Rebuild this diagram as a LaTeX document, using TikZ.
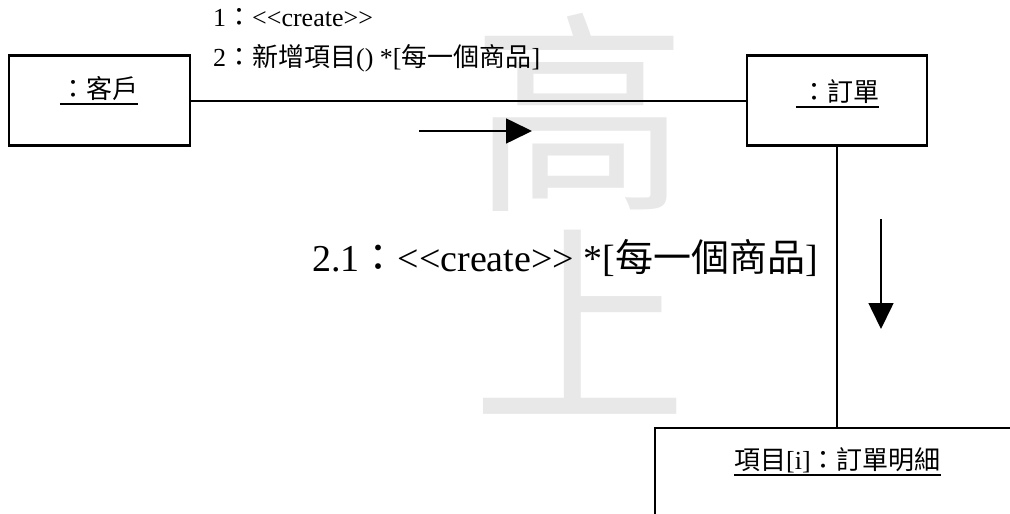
\documentclass[tikz,border=0pt]{standalone}
\usepackage{fontspec}
\setmainfont{Liberation Serif}
\newfontfamily\cjk{Noto Sans CJK TC}
\usetikzlibrary{arrows.meta}
\definecolor{wm}{RGB}{232,232,232}
\newcommand{\dlt}{\textless\kern0pt\textless}
\newcommand{\dgt}{\textgreater\kern0pt\textgreater}
\begin{document}
\begin{tikzpicture}[x=1pt,y=-1pt,
  objbox/.style={draw,line width=2.2pt,inner sep=0pt},
  conn/.style={line width=2pt},
  msg/.style={line width=1.6pt,-{Triangle[length=26pt,width=25pt]}},
  lbl/.style={inner sep=0pt,font=\fontsize{26}{26}\selectfont},
  big/.style={inner sep=0pt,font=\fontsize{38}{38}\selectfont},
  wmark/.style={inner sep=0pt,text=wm,font=\cjk\fontsize{215}{215}\selectfont},
  ul/.style={line width=1.3pt}]
\useasboundingbox (0,0) rectangle (1010,514);
\clip (0,0) rectangle (1010,514);
% watermark
\node[wmark] (w1) at (580,112) {高};
\node[wmark] (w2) at (580,322) {上};
% objects
\node[objbox,minimum width=181pt,minimum height=90pt] (c1) at (99.5,100.5) {};
\node[objbox,minimum width=180pt,minimum height=90pt] (c2) at (837,100.5) {};
\node[objbox,minimum width=380pt,minimum height=120pt] (c3) at (845,488) {};
\node[lbl,anchor=base] (c1t) at (99,98) {\cjk ：客戶};
\node[lbl,anchor=base] (c2t) at (837.5,101) {\hspace{5pt}{\cjk ：訂單}\hspace{5pt}};
\node[lbl,anchor=base] (c3t) at (837.5,469) {{\cjk 項目}[i]{\cjk ：訂單明細}};
\draw[ul] ([yshift=-6pt]c1t.base west) -- ([yshift=-6pt]c1t.base east);
\draw[ul] ([yshift=-6pt]c2t.base west) -- ([yshift=-6pt]c2t.base east);
\draw[ul] ([yshift=-6pt]c3t.base west) -- ([yshift=-6pt]c3t.base east);
% links
\draw[conn] (c1.east) -- (c2.west);
\draw[conn] (c2.south) -- (c2.south |- c3.north);
% messages
\coordinate (a1s) at (419,131);
\coordinate (a1e) at (532,131);
\draw[msg] (a1s) -- (a1e);
\coordinate (a2s) at (881,219);
\coordinate (a2e) at (881,329);
\draw[msg] (a2s) -- (a2e);
% labels
\node[lbl,anchor=base west] (m1) at (213,27) {1{\cjk ：}\dlt create\dgt};
\node[lbl,anchor=base west] (m2) at (213,66) {2{\cjk ：新增項目}() *[{\cjk 每一個商品}]};
\node[big,anchor=base west] (m3) at (312,271) {2.1{\cjk ：}\dlt create\dgt{} *[{\cjk 每一個商品}]};
\end{tikzpicture}
\end{document}
